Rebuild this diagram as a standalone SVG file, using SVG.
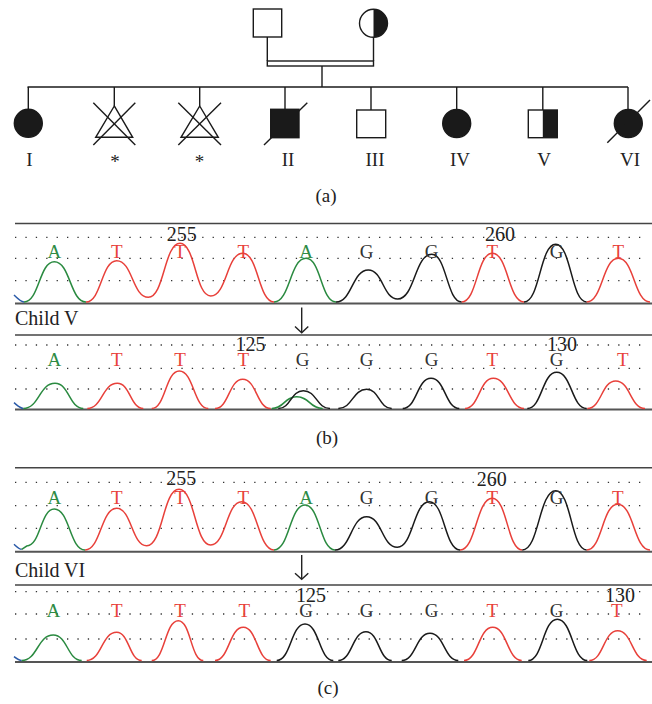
<svg xmlns="http://www.w3.org/2000/svg" width="652" height="704" viewBox="0 0 652 704">
<style>
.ped{fill:none;stroke:#1a1a1a;stroke-width:1.4}
.fill{fill:#1a1a1a;stroke:#1a1a1a;stroke-width:1.4}
.lab{font-family:"Liberation Serif",serif;font-size:19px;fill:#222;text-anchor:middle}
.cap{font-family:"Liberation Serif",serif;font-size:19px;fill:#222;text-anchor:middle}
.child{font-family:"Liberation Serif",serif;font-size:20px;fill:#222}
.b{font-family:"Liberation Serif",serif;font-size:19px;text-anchor:middle}
.bA{fill:#2e8b45}.bT{fill:#e8413a}.bG{fill:#333}
.num{font-family:"Liberation Serif",serif;font-size:20px;fill:#222;text-anchor:middle}
.top{stroke:#444;stroke-width:1.5}
.bot{stroke:#555;stroke-width:2}
.dot{stroke:#333;stroke-width:1.3;stroke-dasharray:1.3 9.1}
.pg{fill:none;stroke:#2a8a40;stroke-width:1.5}
.pr{fill:none;stroke:#e8403a;stroke-width:1.5}
.pk{fill:none;stroke:#1a1a1a;stroke-width:1.5}
.pb{fill:none;stroke:#2a5aa8;stroke-width:1.5}
.arr{fill:none;stroke:#222;stroke-width:1.4}
</style>

<!-- Pedigree connectors -->
<g id="connectors">
<line class="ped" x1="267.3" y1="37" x2="267.3" y2="61"/>
<line class="ped" x1="373.5" y1="37.5" x2="373.5" y2="61"/>
<rect class="ped" x="267.3" y="61" width="106.2" height="5"/>
<line class="ped" x1="322" y1="66" x2="322" y2="87"/>
<line class="ped" x1="27.5" y1="87" x2="628" y2="87"/>
<line class="ped" x1="28.3" y1="87" x2="28.3" y2="109.3"/>
<line class="ped" x1="114.3" y1="87" x2="114.3" y2="106"/>
<line class="ped" x1="199.7" y1="87" x2="199.7" y2="106"/>
<line class="ped" x1="285" y1="87" x2="285" y2="109.3"/>
<line class="ped" x1="371" y1="87" x2="371" y2="110"/>
<line class="ped" x1="456.7" y1="87" x2="456.7" y2="109.3"/>
<line class="ped" x1="542.8" y1="87" x2="542.8" y2="110"/>
<line class="ped" x1="628" y1="87" x2="628" y2="109.5"/>
</g>

<g id="father"><rect class="ped" x="253.3" y="9" width="28.4" height="28"/></g>
<g id="mother">
<path d="M373.5,9.3 A14,14 0 0 1 373.5,37.3 Z" fill="#1a1a1a"/>
<circle class="ped" cx="373.5" cy="23.3" r="14"/>
</g>

<g id="child-I">
<circle class="fill" cx="28.3" cy="123.3" r="14"/>
<text class="lab" x="29.5" y="166">I</text>
</g>
<g id="miscarriage-1">
<path class="ped" d="M114.3,106 L95.7,137.3 L132.7,137.3 Z"/>
<line class="ped" x1="93.3" y1="102.7" x2="135.3" y2="145"/>
<line class="ped" x1="135.3" y1="102.7" x2="93.3" y2="145"/>
<text class="lab" x="115" y="168">*</text>
</g>
<g id="miscarriage-2">
<path class="ped" d="M199.7,106 L181,137.3 L218.3,137.3 Z"/>
<line class="ped" x1="178.3" y1="102.7" x2="221" y2="145"/>
<line class="ped" x1="221" y1="102.7" x2="178.3" y2="145"/>
<text class="lab" x="199.5" y="168">*</text>
</g>
<g id="child-II">
<rect class="fill" x="270.7" y="109.3" width="28.3" height="28.4"/>
<line class="ped" x1="264" y1="145" x2="307.3" y2="102.7"/>
<text class="lab" x="288" y="166">II</text>
</g>
<g id="child-III">
<rect class="ped" x="356.7" y="110" width="29" height="27.7"/>
<text class="lab" x="375" y="166">III</text>
</g>
<g id="child-IV">
<circle class="fill" cx="456.7" cy="123.5" r="14"/>
<text class="lab" x="460" y="166">IV</text>
</g>
<g id="child-V">
<rect x="542.8" y="110" width="14.5" height="27.7" fill="#1a1a1a"/>
<rect class="ped" x="528.3" y="110" width="29" height="27.7"/>
<text class="lab" x="544" y="166">V</text>
</g>
<g id="child-VI">
<circle class="fill" cx="628.3" cy="123.5" r="14"/>
<line class="ped" x1="607.3" y1="142.7" x2="650" y2="100"/>
<text class="lab" x="630" y="166">VI</text>
</g>
<text class="cap" x="326" y="202">(a)</text>

<!-- Panel (b) top -->
<g id="b-top">
<line class="dot" x1="15" y1="237.3" x2="648" y2="237.3"/>
<line class="dot" x1="15" y1="258.3" x2="648" y2="258.3"/>
<line class="dot" x1="15" y1="280.7" x2="648" y2="280.7"/>
<line class="top" x1="15" y1="223.5" x2="652" y2="223.5"/>
<line class="bot" x1="15" y1="303.5" x2="652" y2="303.5"/>
<path class="pb" d="M14,295 C18,299 21,302 24,302"/>
<path class="pg" d="M24,302 C39.2,302 39.2,261.7 54.3,261.7 C70.2,261.7 70.2,302 86,302"/>
<path class="pr" d="M86,302 C101.4,302 101.4,260.7 116.7,260.7 C132.5,260.7 132.5,297.3 148.3,297.3 C164.2,297.3 164.2,243.3 180,243.3 C195.4,243.3 195.4,296 210.7,296 C226.7,296 226.7,253.3 242.7,253.3 C258.4,253.3 258.4,302 274,302"/>
<path class="pg" d="M274,302 C290,302 290,258.3 306,258.3 C321,258.3 321,302 336,302"/>
<path class="pk" d="M336,302 C352.2,302 352.2,270 368.3,270 C383,270 383,299 397.7,299 C414.7,299 414.7,254.3 431.7,254.3 C446.7,254.3 446.7,302 461.7,302"/>
<path class="pr" d="M461.7,302 C477,302 477,253.3 492.3,253.3 C508.2,253.3 508.2,302 524,302"/>
<path class="pk" d="M524,302 C539.9,302 539.9,244.3 555.7,244.3 C571.2,244.3 571.2,302 586.7,302"/>
<path class="pr" d="M586.7,302 C602.5,302 602.5,258.3 618.3,258.3 C634.2,258.3 634.2,302 650,302"/>
<text class="b bA" x="54.3" y="258">A</text>
<text class="b bT" x="116.7" y="258">T</text>
<text class="b bT" x="180" y="258">T</text>
<text class="b bT" x="243.3" y="258">T</text>
<text class="b bA" x="306" y="258">A</text>
<text class="b bG" x="366.7" y="258">G</text>
<text class="b bG" x="431.7" y="258">G</text>
<text class="b bT" x="492.3" y="258">T</text>
<text class="b bG" x="556.7" y="258">G</text>
<text class="b bT" x="618.3" y="258">T</text>
<text class="num" x="181.7" y="241">255</text>
<text class="num" x="500" y="241">260</text>
</g>

<text class="child" x="15" y="325">Child V</text>
<g id="arrow-b">
<line class="arr" x1="301.7" y1="307.5" x2="301.7" y2="332.5"/>
<path class="arr" d="M295,326.5 L301.7,332.7 L308.3,326.5"/>
</g>

<!-- Panel (b) bottom -->
<g id="b-bottom">
<line class="dot" x1="15" y1="345" x2="648" y2="345"/>
<line class="dot" x1="15" y1="368.3" x2="648" y2="368.3"/>
<line class="dot" x1="15" y1="389" x2="648" y2="389"/>
<line class="top" x1="15" y1="335" x2="652" y2="335"/>
<line class="bot" x1="15" y1="409.5" x2="652" y2="409.5"/>
<path class="pb" d="M14,402.7 C18,406 20,408.3 23.3,408.5"/>
<path class="pg" d="M23.3,408.5 C39.2,408.5 39.2,383.3 55,383.3 C69.2,383.3 69.2,408.5 83.3,408.5"/>
<path class="pr" d="M87.3,408.5 C102.3,408.5 102.3,383.3 117.3,383.3 C130.3,383.3 130.3,408.5 143.3,408.5"/>
<path class="pr" d="M151.7,408.5 C165.5,408.5 165.5,371 179.3,371 C193.8,371 193.8,408.5 208.3,408.5"/>
<path class="pr" d="M215,408.5 C228.9,408.5 228.9,379.3 242.7,379.3 C256.7,379.3 256.7,408.5 270.7,408.5"/>
<path class="pg" d="M271.7,408.5 C284.2,408.5 284.2,396.7 296.7,396.7 C309.7,396.7 309.7,408.5 322.7,408.5"/>
<path class="pk" d="M278.3,408.5 C290.8,408.5 290.8,390.7 303.3,390.7 C316.7,390.7 316.7,408.5 330,408.5"/>
<path class="pk" d="M338.3,408.5 C352.5,408.5 352.5,389.3 366.7,389.3 C379.2,389.3 379.2,408.5 391.7,408.5"/>
<path class="pk" d="M402.7,408.5 C416.9,408.5 416.9,378.3 431,378.3 C445.2,378.3 445.2,408.5 459.3,408.5"/>
<path class="pr" d="M465,408.5 C479.2,408.5 479.2,378.3 493.3,378.3 C508.7,378.3 508.7,408.5 524,408.5"/>
<path class="pk" d="M527.3,408.5 C542,408.5 542,372.3 556.7,372.3 C571.7,372.3 571.7,408.5 586.7,408.5"/>
<path class="pr" d="M587.3,408.5 C601.5,408.5 601.5,381 615.7,381 C630.4,381 630.4,408.5 645,408.5"/>
<text class="b bA" x="54.3" y="366">A</text>
<text class="b bT" x="116.7" y="366">T</text>
<text class="b bT" x="180" y="366">T</text>
<text class="b bT" x="243.3" y="366">T</text>
<text class="b bG" x="302.7" y="366">G</text>
<text class="b bG" x="366.7" y="366">G</text>
<text class="b bG" x="431.7" y="366">G</text>
<text class="b bT" x="492.3" y="366">T</text>
<text class="b bG" x="556.7" y="366">G</text>
<text class="b bT" x="622.7" y="366">T</text>
<text class="num" x="250.5" y="351">125</text>
<text class="num" x="562" y="351">130</text>
</g>
<text class="cap" x="327" y="444">(b)</text>

<!-- Panel (c) top -->
<g id="c-top">
<line class="dot" x1="15" y1="482.3" x2="648" y2="482.3"/>
<line class="dot" x1="15" y1="505.7" x2="648" y2="505.7"/>
<line class="dot" x1="15" y1="528.3" x2="648" y2="528.3"/>
<line class="top" x1="15" y1="467.7" x2="652" y2="467.7"/>
<line class="bot" x1="15" y1="551.7" x2="652" y2="551.7"/>
<path class="pb" d="M14,544.3 C17,547 19,549.3 21.7,549.3"/>
<path class="pg" d="M21.7,549.3 L26.7,546 C40.5,546 40.5,509 54.3,509 C69.7,509 69.7,550 85,550"/>
<path class="pr" d="M85,550 C100.9,550 100.9,508.3 116.7,508.3 C131.7,508.3 131.7,545.7 146.7,545.7 C162.9,545.7 162.9,489.3 179,489.3 C194.9,489.3 194.9,545 210.7,545 C226.2,545 226.2,501.7 241.7,501.7 C257.9,501.7 257.9,550 274,550"/>
<path class="pg" d="M274,550 C289.5,550 289.5,505 305,505 C320,505 320,550 335,550"/>
<path class="pk" d="M335,550 C350.9,550 350.9,516.7 366.7,516.7 C382,516.7 382,547.3 397.3,547.3 C413.3,547.3 413.3,501.7 429.3,501.7 C444.7,501.7 444.7,550 460,550"/>
<path class="pr" d="M460,550 C476.2,550 476.2,498.3 492.3,498.3 C507.3,498.3 507.3,550 522.3,550"/>
<path class="pk" d="M522.3,550 C539,550 539,490.7 555.7,490.7 C571.2,490.7 571.2,550 586.7,550"/>
<path class="pr" d="M586.7,550 C602.2,550 602.2,504.3 617.7,504.3 C633.9,504.3 633.9,550 650,550"/>
<text class="b bA" x="54.3" y="504">A</text>
<text class="b bT" x="116.7" y="504">T</text>
<text class="b bT" x="180" y="504">T</text>
<text class="b bT" x="243.3" y="504">T</text>
<text class="b bA" x="306" y="504">A</text>
<text class="b bG" x="366.7" y="504">G</text>
<text class="b bG" x="431.7" y="504">G</text>
<text class="b bT" x="492.3" y="504">T</text>
<text class="b bG" x="556.7" y="504">G</text>
<text class="b bT" x="617.7" y="504">T</text>
<text class="num" x="181.2" y="485">255</text>
<text class="num" x="491.7" y="486">260</text>
</g>

<text class="child" x="15" y="577">Child VI</text>
<g id="arrow-c">
<line class="arr" x1="301.7" y1="555" x2="301.7" y2="579"/>
<path class="arr" d="M295,573.3 L301.7,579.3 L308.3,573.3"/>
</g>

<!-- Panel (c) bottom -->
<g id="c-bottom">
<line class="dot" x1="15" y1="591.7" x2="648" y2="591.7"/>
<line class="dot" x1="15" y1="614" x2="648" y2="614"/>
<line class="dot" x1="15" y1="639" x2="648" y2="639"/>
<line class="top" x1="15" y1="585" x2="652" y2="585"/>
<line class="bot" x1="15" y1="662" x2="652" y2="662"/>
<path class="pb" d="M14,656.7 C17,659 19,660.5 21.7,660.5"/>
<path class="pg" d="M21.7,660.5 C37.5,660.5 37.5,635 53.3,635 C67.5,635 67.5,660.5 81.7,660.5"/>
<path class="pr" d="M86.7,660.5 C101.7,660.5 101.7,632.3 116.7,632.3 C129.2,632.3 129.2,660.5 141.7,660.5"/>
<path class="pr" d="M151.7,660.5 C165,660.5 165,620.7 178.3,620.7 C190.8,620.7 190.8,660.5 203.3,660.5"/>
<path class="pr" d="M215,660.5 C229.2,660.5 229.2,627.3 243.3,627.3 C257,627.3 257,660.5 270.7,660.5"/>
<path class="pk" d="M276.7,660.5 C290.9,660.5 290.9,624 305,624 C319.2,624 319.2,660.5 333.3,660.5"/>
<path class="pk" d="M338.3,660.5 C352.2,660.5 352.2,631.7 366,631.7 C378.9,631.7 378.9,660.5 391.7,660.5"/>
<path class="pk" d="M401.7,660.5 C415.9,660.5 415.9,633.3 430,633.3 C444.2,633.3 444.2,660.5 458.3,660.5"/>
<path class="pr" d="M464,660.5 C478.4,660.5 478.4,627.3 492.7,627.3 C507.2,627.3 507.2,660.5 521.7,660.5"/>
<path class="pk" d="M528.3,660.5 C542.8,660.5 542.8,619.3 557.3,619.3 C572.3,619.3 572.3,660.5 587.3,660.5"/>
<path class="pr" d="M589.3,660.5 C603.5,660.5 603.5,630.7 617.7,630.7 C632.2,630.7 632.2,660.5 646.7,660.5"/>
<text class="b bA" x="53.3" y="617">A</text>
<text class="b bT" x="116.7" y="617">T</text>
<text class="b bT" x="180" y="617">T</text>
<text class="b bT" x="244.3" y="617">T</text>
<text class="b bG" x="306" y="617">G</text>
<text class="b bG" x="366.7" y="617">G</text>
<text class="b bG" x="431.7" y="617">G</text>
<text class="b bT" x="492.3" y="617">T</text>
<text class="b bG" x="556.7" y="617">G</text>
<text class="b bT" x="616.7" y="617">T</text>
<text class="num" x="311" y="602">125</text>
<text class="num" x="620" y="602">130</text>
</g>
<text class="cap" x="328" y="694">(c)</text>
</svg>
